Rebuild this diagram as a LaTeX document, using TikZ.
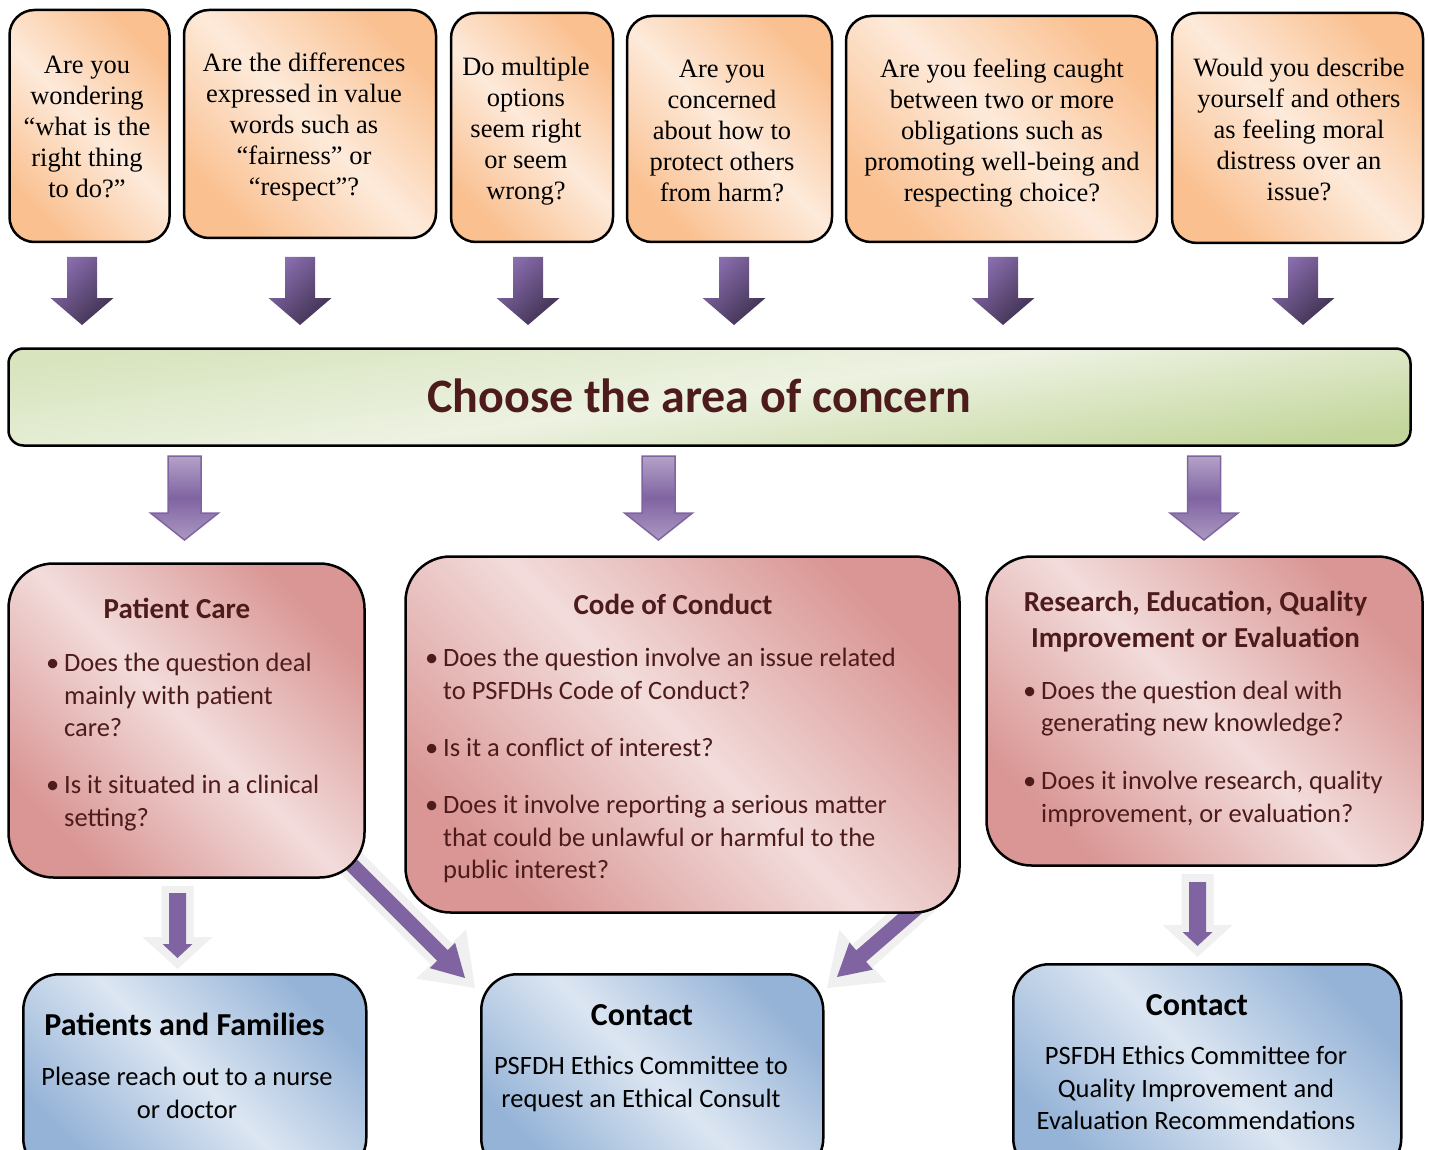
\documentclass[tikz,border=0pt]{standalone}
\usepackage{fontspec}
\setmainfont{Carlito}
\newfontfamily\seriffam{Liberation Serif}
\usetikzlibrary{calc}
\definecolor{peachD}{HTML}{FAC090}
\definecolor{peachL}{HTML}{FDEADA}
\definecolor{roseD}{HTML}{D99694}
\definecolor{roseL}{HTML}{F2DCDB}
\definecolor{blueD}{HTML}{95B3D7}
\definecolor{blueL}{HTML}{DCE6F2}
\definecolor{greenT}{HTML}{D7E4BD}
\definecolor{greenM}{HTML}{EDF2E2}
\definecolor{greenB}{HTML}{C3D69B}
\definecolor{purp}{HTML}{8064A2}
\definecolor{purpD}{HTML}{3F3151}
\definecolor{purpT}{HTML}{8A6EAE}
\definecolor{lilac}{HTML}{B3A2C7}
\definecolor{glow}{HTML}{F0F0F0}
\definecolor{brownT}{HTML}{4D1B1B}
\newcommand\bul{\makebox[18pt][l]{\textbullet}}
% block arrow: style, start, end, shaft half, head half, head length
\newcommand\blockarrow[6]{%
  \coordinate (bah) at ($(#3)!#6!(#2)$);
  \path[#1] ($(#2)!#4!90:(#3)$) -- ($(bah)!#4!90:(#3)$) -- ($(bah)!#5!90:(#3)$)
    -- (#3) -- ($(bah)!#5!-90:(#3)$) -- ($(bah)!#4!-90:(#3)$) -- ($(#2)!#4!-90:(#3)$) -- cycle;}
\begin{document}
\begin{tikzpicture}[x=1pt,y=-1pt,
  qbox/.style={draw=black, line width=2.5pt, rounded corners=25pt, inner sep=0pt,
    left color=peachD, right color=peachD, middle color=peachL, shading angle=135},
  rbox/.style={draw=black, line width=2.5pt, rounded corners=45pt, inner sep=0pt,
    left color=roseD, right color=roseD, middle color=roseL, shading angle=135},
  bbox/.style={draw=black, line width=2.5pt, rounded corners=36pt, inner sep=0pt,
    left color=blueD, right color=blueD, middle color=blueL, shading angle=135},
  gbar/.style={draw=black, line width=2.5pt, rounded corners=15pt, inner sep=0pt,
    top color=greenT, bottom color=greenB, middle color=greenM, shading angle=8},
  qtext/.style={font=\seriffam\fontsize{26.5}{31}\selectfont, anchor=base, inner sep=0pt, text=black},
  rhead/.style={font=\bfseries\fontsize{29}{36}\selectfont, anchor=base, inner sep=0pt, text=brownT},
  rbul/.style={font=\fontsize{26.5}{32.5}\selectfont, anchor=base west, inner sep=0pt, text=brownT},
  bhead/.style={font=\bfseries\fontsize{32}{38}\selectfont, anchor=base, inner sep=0pt, text=black},
  btext/.style={font=\fontsize{26.5}{32.5}\selectfont, anchor=base, inner sep=0pt, text=black},
  darrow/.style={top color=purpT, bottom color=purpD, shading angle=45},
  larrow/.style={draw=purp, line width=1.5pt, top color=lilac, bottom color=lilac!85!purp, middle color=purp},
  sarrow/.style={fill=purp},
  garrow/.style={fill=glow}
]
\useasboundingbox (0,0) rectangle (1429,1150);
\fill[white] (0,0) rectangle (1429,1150);

% ---------- top arrows ----------
\foreach \n/\x in {1/82,2/300,3/528,4/734,5/1003,6/1303}{
  \coordinate (ta\n s) at (\x,257);
  \coordinate (ta\n e) at (\x,325);
  \blockarrow{darrow}{ta\n s}{ta\n e}{15pt}{31.5pt}{27pt}
}
% ---------- second row arrows ----------
\foreach \n/\x in {1/184.5,2/658.5,3/1204}{
  \coordinate (ma\n s) at (\x,456);
  \coordinate (ma\n e) at (\x,540);
  \blockarrow{larrow}{ma\n s}{ma\n e}{16.5pt}{34pt}{27pt}
}
% ---------- bottom arrows ----------
\coordinate (g1s) at (177.5,886); \coordinate (g1e) at (177.5,969);
\coordinate (p1s) at (177.5,893); \coordinate (p1e) at (177.5,958);
\blockarrow{garrow}{g1s}{g1e}{16pt}{35pt}{32pt}
\blockarrow{sarrow}{p1s}{p1e}{8.5pt}{15pt}{14pt}
\coordinate (g4s) at (1197.5,874); \coordinate (g4e) at (1197.5,957);
\coordinate (p4s) at (1197.5,882); \coordinate (p4e) at (1197.5,946);
\blockarrow{garrow}{g4s}{g4e}{16pt}{35pt}{32pt}
\blockarrow{sarrow}{p4s}{p4e}{8.5pt}{15pt}{14pt}
\coordinate (g2s) at (338,850); \coordinate (g2e) at (475,988);
\coordinate (p2s) at (345,858); \coordinate (p2e) at (465,978);
\blockarrow{garrow}{g2s}{g2e}{15pt}{35pt}{48pt}
\blockarrow{sarrow}{p2s}{p2e}{7.5pt}{18pt}{32pt}
\coordinate (g3s) at (927,898); \coordinate (g3e) at (827,988);
\coordinate (p3s) at (920,905); \coordinate (p3e) at (837,977);
\blockarrow{garrow}{g3s}{g3e}{15pt}{35pt}{48pt}
\blockarrow{sarrow}{p3s}{p3e}{7.5pt}{18pt}{32pt}

% ---------- top boxes ----------
\node[qbox, minimum width=160, minimum height=232] (q1) at (89.5,126) {};
\node[qbox, minimum width=252, minimum height=228] (q2) at (310,124) {};
\node[qbox, minimum width=162, minimum height=229] (q3) at (532,127.5) {};
\node[qbox, minimum width=205, minimum height=226] (q4) at (729.5,129) {};
\node[qbox, minimum width=311, minimum height=226] (q5) at (1001.5,129) {};
\node[qbox, minimum width=251, minimum height=230] (q6) at (1297.5,128) {};
\node[qtext] (q1t) at (87,74) {\begin{tabular}[t]{@{}c@{}}Are you\\wondering\\“what is the\\right thing\\to do?”\end{tabular}};
\node[qtext] (q2t) at (304,72) {\begin{tabular}[t]{@{}c@{}}Are the differences\\expressed in value\\words such as\\“fairness” or\\“respect”?\end{tabular}};
\node[qtext] (q3t) at (526,76) {\begin{tabular}[t]{@{}c@{}}Do multiple\\options\\seem right\\or seem\\wrong?\end{tabular}};
\node[qtext] (q4t) at (722,78) {\begin{tabular}[t]{@{}c@{}}Are you\\concerned\\about how to\\protect others\\from harm?\end{tabular}};
\node[qtext] (q5t) at (1002,78) {\begin{tabular}[t]{@{}c@{}}Are you feeling caught\\between two or more\\obligations such as\\promoting well-being and\\respecting choice?\end{tabular}};
\node[qtext] (q6t) at (1299,77) {\begin{tabular}[t]{@{}c@{}}Would you describe\\yourself and others\\as feeling moral\\distress over an\\issue?\end{tabular}};

% ---------- green bar ----------
\node[gbar, minimum width=1402, minimum height=97] (bar) at (709.5,397) {};
\node[font=\bfseries\fontsize{48}{56}\selectfont, text=brownT, anchor=base, inner sep=0pt] (bart) at (699,412) {Choose the area of concern};

% ---------- red boxes ----------
\node[rbox, minimum width=356, minimum height=314] (pc) at (186.5,720.5) {};
\node[rbox, minimum width=554, minimum height=356] (cc) at (682.5,734.5) {};
\node[rbox, minimum width=436, minimum height=309] (re) at (1204.5,711) {};
\node[rhead] (pch) at (177,618) {Patient Care};
\node[rbul] (pc1) at (46,671.5) {\bul\begin{tabular}[t]{@{}l@{}}Does the question deal\\mainly with patient\\care?\end{tabular}};
\node[rbul] (pc2) at (46,793.5) {\bul\begin{tabular}[t]{@{}l@{}}Is it situated in a clinical\\setting?\end{tabular}};
\node[rhead] (cch) at (673,614) {Code of Conduct};
\node[rbul] (cc1) at (425,666.5) {\bul\begin{tabular}[t]{@{}l@{}}Does the question involve an issue related\\to PSFDHs Code of Conduct?\end{tabular}};
\node[rbul] (cc2) at (425,756.5) {\bul Is it a conflict of interest?};
\node[rbul] (cc3) at (425,813.5) {\bul\begin{tabular}[t]{@{}l@{}}Does it involve reporting a serious matter\\that could be unlawful or harmful to the\\public interest?\end{tabular}};
\node[rhead] (reh) at (1195.5,611) {\begin{tabular}[t]{@{}c@{}}Research, Education, Quality\\Improvement or Evaluation\end{tabular}};
\node[rbul] (re1) at (1023,699) {\bul\begin{tabular}[t]{@{}l@{}}Does the question deal with\\generating new knowledge?\end{tabular}};
\node[rbul] (re2) at (1023,789.5) {\bul\begin{tabular}[t]{@{}l@{}}Does it involve research, quality\\improvement, or evaluation?\end{tabular}};

% ---------- blue boxes ----------
\node[bbox, minimum width=343, minimum height=200, anchor=north west] (pf) at (22,973) {};
\node[bbox, minimum width=342, minimum height=200, anchor=north west] (ct) at (480,973) {};
\node[bbox, minimum width=388, minimum height=210, anchor=north west] (cr) at (1012,963) {};
\node[bhead] (pfh) at (184.5,1035) {Patients and Families};
\node[btext] (pfb) at (187,1085.5) {\begin{tabular}[t]{@{}c@{}}Please reach out to a nurse\\or doctor\end{tabular}};
\node[bhead] (cth) at (642,1025) {Contact};
\node[btext] (ctb) at (641,1074.5) {\begin{tabular}[t]{@{}c@{}}PSFDH Ethics Committee to\\request an Ethical Consult\end{tabular}};
\node[bhead] (crh) at (1197,1015) {Contact};
\node[btext] (crb) at (1196,1064.5) {\begin{tabular}[t]{@{}c@{}}PSFDH Ethics Committee for\\Quality Improvement and\\Evaluation Recommendations\end{tabular}};
\end{tikzpicture}
\end{document}
